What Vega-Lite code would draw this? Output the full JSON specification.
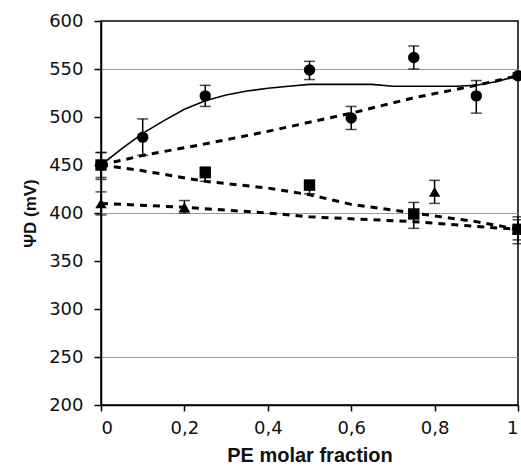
{
  "$schema": "https://vega.github.io/schema/vega-lite/v6.json",
  "width": 417,
  "height": 384,
  "autosize": {"type": "none"},
  "padding": {"left": 101, "top": 21, "right": 3, "bottom": 61},
  "background": "white",
  "config": {
    "font": "Liberation Sans",
    "view": {"stroke": "#000", "strokeWidth": 1.5},
    "axis": {"labelFont": "DejaVu Sans", "titleFont": "Liberation Sans", "labelColor": "#111", "titleColor": "#111", "domainColor": "#000", "domainWidth": 1.5, "tickColor": "#000", "tickWidth": 1.5}
  },
  "datasets": {
    "curves": [
      {"x": 0, "y": 450, "curve": "fit", "style": "solid"},
      {"x": 0.05, "y": 467, "curve": "fit", "style": "solid"},
      {"x": 0.1, "y": 483, "curve": "fit", "style": "solid"},
      {"x": 0.15, "y": 496, "curve": "fit", "style": "solid"},
      {"x": 0.2, "y": 508, "curve": "fit", "style": "solid"},
      {"x": 0.25, "y": 517, "curve": "fit", "style": "solid"},
      {"x": 0.3, "y": 523, "curve": "fit", "style": "solid"},
      {"x": 0.35, "y": 527, "curve": "fit", "style": "solid"},
      {"x": 0.4, "y": 530, "curve": "fit", "style": "solid"},
      {"x": 0.45, "y": 532, "curve": "fit", "style": "solid"},
      {"x": 0.5, "y": 534, "curve": "fit", "style": "solid"},
      {"x": 0.6, "y": 534, "curve": "fit", "style": "solid"},
      {"x": 0.65, "y": 534, "curve": "fit", "style": "solid"},
      {"x": 0.7, "y": 532, "curve": "fit", "style": "solid"},
      {"x": 0.8, "y": 532, "curve": "fit", "style": "solid"},
      {"x": 0.85, "y": 532, "curve": "fit", "style": "solid"},
      {"x": 0.9, "y": 533, "curve": "fit", "style": "solid"},
      {"x": 0.95, "y": 537, "curve": "fit", "style": "solid"},
      {"x": 1, "y": 543, "curve": "fit", "style": "solid"},
      {"x": 0, "y": 450, "curve": "circles", "style": "dashed"},
      {"x": 0.1, "y": 460, "curve": "circles", "style": "dashed"},
      {"x": 0.25, "y": 472, "curve": "circles", "style": "dashed"},
      {"x": 0.4, "y": 485, "curve": "circles", "style": "dashed"},
      {"x": 0.6, "y": 504, "curve": "circles", "style": "dashed"},
      {"x": 0.75, "y": 520, "curve": "circles", "style": "dashed"},
      {"x": 0.9, "y": 533, "curve": "circles", "style": "dashed"},
      {"x": 1, "y": 543, "curve": "circles", "style": "dashed"},
      {"x": 0, "y": 450, "curve": "squares", "style": "dashed"},
      {"x": 0.1, "y": 444, "curve": "squares", "style": "dashed"},
      {"x": 0.25, "y": 433, "curve": "squares", "style": "dashed"},
      {"x": 0.4, "y": 426, "curve": "squares", "style": "dashed"},
      {"x": 0.5, "y": 419, "curve": "squares", "style": "dashed"},
      {"x": 0.6, "y": 409, "curve": "squares", "style": "dashed"},
      {"x": 0.75, "y": 400, "curve": "squares", "style": "dashed"},
      {"x": 0.9, "y": 391, "curve": "squares", "style": "dashed"},
      {"x": 1, "y": 383, "curve": "squares", "style": "dashed"},
      {"x": 0, "y": 410, "curve": "triangles", "style": "dashed"},
      {"x": 0.2, "y": 406, "curve": "triangles", "style": "dashed"},
      {"x": 0.4, "y": 400, "curve": "triangles", "style": "dashed"},
      {"x": 0.5, "y": 396, "curve": "triangles", "style": "dashed"},
      {"x": 0.75, "y": 391, "curve": "triangles", "style": "dashed"},
      {"x": 0.9, "y": 386, "curve": "triangles", "style": "dashed"},
      {"x": 1, "y": 383, "curve": "triangles", "style": "dashed"}
    ],
    "points": [
      {"x": 0, "y": 450, "lo": 437, "hi": 463, "series": "circle"},
      {"x": 0.1, "y": 479, "lo": 460, "hi": 498, "series": "circle"},
      {"x": 0.25, "y": 522, "lo": 511, "hi": 533, "series": "circle"},
      {"x": 0.5, "y": 549, "lo": 539, "hi": 558, "series": "circle"},
      {"x": 0.6, "y": 499, "lo": 487, "hi": 511, "series": "circle"},
      {"x": 0.75, "y": 562, "lo": 550, "hi": 574, "series": "circle"},
      {"x": 0.9, "y": 522, "lo": 504, "hi": 538, "series": "circle"},
      {"x": 1, "y": 543, "lo": 540, "hi": 546, "series": "circle"},
      {"x": 0, "y": 450, "lo": 435, "hi": 463, "series": "square"},
      {"x": 0.25, "y": 442, "lo": 433, "hi": 448, "series": "square"},
      {"x": 0.5, "y": 429, "lo": 420, "hi": 434, "series": "square"},
      {"x": 0.75, "y": 399, "lo": 384, "hi": 411, "series": "square"},
      {"x": 1, "y": 383, "lo": 372, "hi": 393, "series": "square"},
      {"x": 0, "y": 410, "lo": 398, "hi": 422, "series": "triangle"},
      {"x": 0.2, "y": 406, "lo": 400, "hi": 413, "series": "triangle"},
      {"x": 0.8, "y": 422, "lo": 410, "hi": 434, "series": "triangle"},
      {"x": 1, "y": 383, "lo": 368, "hi": 396, "series": "triangle"}
    ]
  },
  "encoding": {
    "x": {
      "field": "x", "type": "quantitative",
      "scale": {"domain": [0, 1], "nice": false, "zero": false},
      "axis": {
        "title": "PE molar fraction", "titleFontSize": 20, "titleFontWeight": "bold", "titlePadding": 8,
        "values": [0, 0.2, 0.4, 0.6, 0.8, 1],
        "labelExpr": "replace(format(datum.value, '.1~f'), '.', ',')",
        "labelFontSize": 18, "labelPadding": 8, "tickSize": 6, "grid": false
      }
    },
    "y": {
      "field": "y", "type": "quantitative",
      "scale": {"domain": [200, 600], "nice": false, "zero": false},
      "axis": {
        "title": "ΨD (mV)", "titleFontSize": 17, "titleFontWeight": "bold", "titlePadding": 9,
        "values": [200, 250, 300, 350, 400, 450, 500, 550, 600],
        "labelFontSize": 18, "labelPadding": 11, "tickSize": 7,
        "grid": true, "gridColor": "#999", "gridWidth": 1,
        "gridOpacity": {"condition": {"test": "datum.value % 150 == 100", "value": 1}, "value": 0}
      }
    }
  },
  "layer": [
    {
      "data": {"name": "curves"},
      "transform": [{"filter": "datum.style == 'solid'"}],
      "mark": {"type": "line", "color": "#000", "strokeWidth": 1.6},
      "encoding": {"detail": {"field": "curve"}}
    },
    {
      "data": {"name": "curves"},
      "transform": [{"filter": "datum.style == 'dashed'"}],
      "mark": {"type": "line", "color": "#000", "strokeWidth": 3, "strokeDash": [7, 6]},
      "encoding": {"detail": {"field": "curve"}}
    },
    {
      "data": {"name": "points"},
      "mark": {"type": "rule", "color": "#000", "strokeWidth": 1.5},
      "encoding": {"y": {"field": "lo", "type": "quantitative"}, "y2": {"field": "hi"}}
    },
    {
      "data": {"name": "points"},
      "mark": {"type": "tick", "orient": "horizontal", "color": "#000", "size": 11, "thickness": 1.5},
      "encoding": {"y": {"field": "lo", "type": "quantitative"}}
    },
    {
      "data": {"name": "points"},
      "mark": {"type": "tick", "orient": "horizontal", "color": "#000", "size": 11, "thickness": 1.5},
      "encoding": {"y": {"field": "hi", "type": "quantitative"}}
    },
    {
      "data": {"name": "points"},
      "mark": {"type": "point", "filled": true, "color": "#000", "opacity": 1, "size": 130},
      "encoding": {
        "shape": {"field": "series", "type": "nominal", "scale": {"domain": ["circle", "square", "triangle"], "range": ["circle", "square", "triangle-up"]}, "legend": null}
      }
    }
  ]
}
